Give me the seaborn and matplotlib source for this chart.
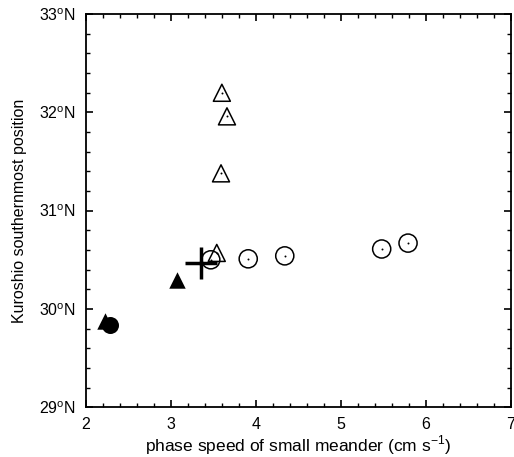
import numpy as np
import pandas as pd
import seaborn as sns
import matplotlib.pyplot as plt
from matplotlib.ticker import MultipleLocator

# data
open_tri_x = [3.60, 3.66, 3.59, 3.54]
open_tri_y = [32.20, 31.96, 31.38, 30.57]
open_circ_x = [3.47, 3.91, 4.34, 5.48, 5.79]
open_circ_y = [30.50, 30.51, 30.54, 30.61, 30.67]
fill_tri_x = [2.23, 3.07]
fill_tri_y = [29.88, 30.29]
fill_circ_x = [2.28]
fill_circ_y = [29.84]
cross_x = [3.35]
cross_y = [30.47]

xticks = [2, 3, 4, 5, 6, 7]
yticks = [29, 30, 31, 32, 33]
ytick_labels = [f"{v}$^{{\\mathrm{{o}}}}$N" for v in yticks]

sns.set_style("ticks")
plt.rcParams['font.family'] = ['Liberation Sans', 'DejaVu Sans']
plt.rcParams['mathtext.fontset'] = 'custom'
plt.rcParams['mathtext.rm'] = 'Liberation Sans'
plt.rcParams['text.color'] = 'black'
plt.rcParams['axes.labelcolor'] = 'black'

fig = plt.figure(figsize=(5.14, 4.57), dpi=100)
ax = fig.add_axes([0.167, 0.109, 0.827, 0.86])

df_ot = pd.DataFrame({"x": open_tri_x, "y": open_tri_y})
df_oc = pd.DataFrame({"x": open_circ_x, "y": open_circ_y})
df_ft = pd.DataFrame({"x": fill_tri_x, "y": fill_tri_y})
df_fc = pd.DataFrame({"x": fill_circ_x, "y": fill_circ_y})
df_cr = pd.DataFrame({"x": cross_x, "y": cross_y})

sns.scatterplot(data=df_ot, x="x", y="y", marker="^", s=150, facecolor="none",
                edgecolor="black", linewidth=1.1, ax=ax, zorder=3)
sns.scatterplot(data=df_ot, x="x", y="y", marker="o", s=2, color="black",
                linewidth=0, ax=ax, zorder=4)
sns.scatterplot(data=df_oc, x="x", y="y", marker="o", s=170, facecolor="none",
                edgecolor="black", linewidth=1.1, ax=ax, zorder=3)
sns.scatterplot(data=df_oc, x="x", y="y", marker="o", s=2, color="black",
                linewidth=0, ax=ax, zorder=4)
sns.scatterplot(data=df_ft, x="x", y="y", marker="^", s=140, color="black",
                linewidth=0, ax=ax, zorder=3)
sns.scatterplot(data=df_fc, x="x", y="y", marker="o", s=150, color="black",
                linewidth=0, ax=ax, zorder=3)
sns.scatterplot(data=df_cr, x="x", y="y", marker="+", s=520, color="black",
                linewidth=2.5, ax=ax, zorder=5)

ax.set_xlim(2, 7)
ax.set_ylim(29, 33)
ax.set_xticks(xticks)
ax.set_yticks(yticks)
ax.set_yticklabels(ytick_labels)
ax.xaxis.set_minor_locator(MultipleLocator(0.2))
ax.yaxis.set_minor_locator(MultipleLocator(0.2))
ax.tick_params(which="both", direction="in", top=True, right=True,
               labelsize=11.5, colors="black")
ax.tick_params(which="major", length=5, width=1.2, pad=7)
ax.tick_params(which="minor", length=3, width=1.0)
for sp in ax.spines.values():
    sp.set_linewidth(1.3)
    sp.set_color("black")

ax.set_xlabel("phase speed of small meander (cm s$^{-1}$)", fontsize=12.5, labelpad=1,
              color="black")
ax.set_ylabel("Kuroshio southernmost position", fontsize=11.5, labelpad=9,
              color="black")

plt.savefig("out.png", dpi=100)
